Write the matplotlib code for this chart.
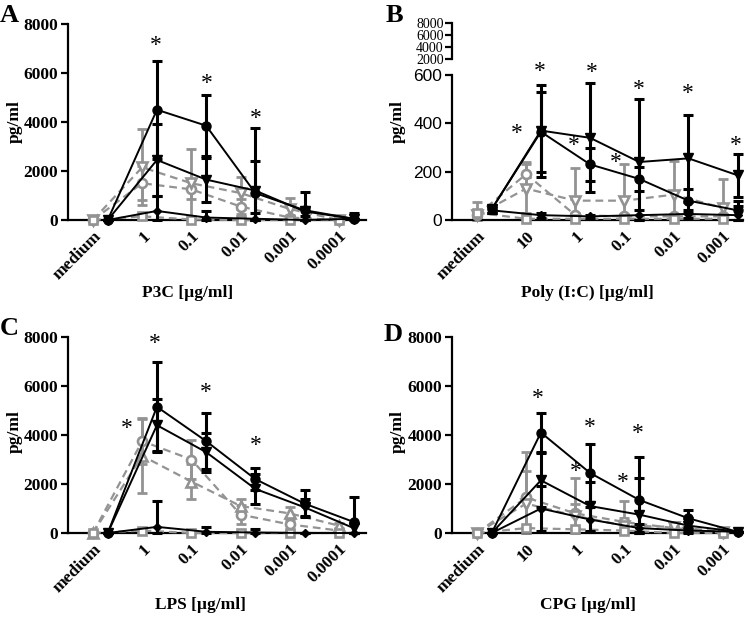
import numpy as np
import matplotlib
matplotlib.use('Agg')
import matplotlib.pyplot as plt

SERIF = 'Liberation Serif'
SANS = 'Liberation Sans'
GRAY = '#939393'

# ---------------- data ----------------
cats_A = ['medium', '1', '0.1', '0.01', '0.001', '0.0001']
cats_B = ['medium', '10', '1', '0.1', '0.01', '0.001']
cats_C = ['medium', '1', '0.1', '0.01', '0.001', '0.0001']
cats_D = ['medium', '10', '1', '0.1', '0.01', '0.001']

# Panel A  (P3C)
A_k1 = [0, 4500, 3850, 1100, 400, 50];   A_k1_err = [0, 2000, 1250, 2650, 750, 250]
A_k2 = [0, 2450, 1650, 1200, 350, 50];   A_k2_err = [0, 1450, 900, 1200, 200, 0]
A_k3 = [0, 370, 100, 50, 0, 50];         A_k3_err = [0, 600, 250, 230, 0, 0]
A_g1 = [0, 1500, 1250, 550, 100, 0];     A_g1_err = [0, 700, 400, 300, 100, 0]
A_g2 = [0, 2150, 1500, 1100, 450, 0];    A_g2_err = [0, 1550, 1400, 650, 450, 0]
A_g3 = [0, 150, 20, 0, 0, 0];            A_g3_err = [0, 0, 0, 0, 0, 0]
A_stars = [(1.27, 7140), (2.32, 5590), (3.31, 4160)]

# Panel B  (Poly I:C)
B_k1 = [45, 365, 230, 170, 80, 40];      B_k1_err = [15, 165, 70, 50, 50, 40]
B_k2 = [45, 370, 340, 240, 255, 185];    B_k2_err = [15, 190, 225, 260, 180, 90]
B_k3 = [40, 20, 15, 20, 25, 20];         B_k3_err = [10, 10, 5, 20, 15, 40]
B_g1 = [20, 190, 20, 15, 15, 15];        B_g1_err = [20, 50, 10, 10, 10, 10]
B_g2 = [20, 130, 80, 80, 105, 50];       B_g2_err = [10, 100, 135, 150, 140, 120]
B_g3 = [30, 5, 5, 5, 5, 5];              B_g3_err = [45, 0, 0, 0, 0, 0]
B_stars = [(1.28, 616), (2.33, 612), (3.29, 542), (4.28, 525), (5.27, 310),
           (0.81, 356), (1.97, 310), (2.82, 240)]

# Panel C  (LPS)
C_k1 = [0, 5150, 3750, 2200, 1200, 450]; C_k1_err = [0, 1850, 1150, 450, 550, 1000]
C_k2 = [0, 4400, 3300, 1800, 1050, 200]; C_k2_err = [0, 1050, 800, 600, 350, 200]
C_k3 = [0, 250, 50, 20, 0, 0];           C_k3_err = [0, 1050, 200, 150, 0, 0]
C_g1 = [0, 3750, 3000, 750, 350, 100];   C_g1_err = [0, 950, 800, 400, 250, 50]
C_g2 = [0, 3150, 2100, 1100, 800, 300];  C_g2_err = [0, 1500, 700, 300, 250, 100]
C_g3 = [0, 100, 0, 0, 0, 0];             C_g3_err = [0, 0, 0, 0, 0, 0]
C_stars = [(0.69, 4280), (1.26, 7750), (2.30, 5750), (3.31, 3590)]

# Panel D  (CPG)
D_k1 = [0, 4100, 2450, 1350, 600, 50];   D_k1_err = [0, 800, 1200, 1750, 350, 0]
D_k2 = [0, 2150, 1100, 750, 300, 50];    D_k2_err = [0, 1100, 1000, 1500, 300, 0]
D_k3 = [0, 1000, 550, 200, 100, 50];     D_k3_err = [0, 900, 500, 150, 50, 0]
D_g1 = [0, 1450, 800, 450, 200, 0];      D_g1_err = [0, 1850, 1450, 850, 200, 0]
D_g2 = [0, 1200, 700, 300, 250, 50];     D_g2_err = [0, 1350, 500, 300, 200, 0]
D_g3 = [0, 200, 150, 100, 0, 0];         D_g3_err = [0, 0, 0, 0, 0, 0]
D_stars = [(1.24, 5510), (2.29, 4320), (3.27, 4080), (2.01, 2490), (2.96, 2080)]

# ---------------- drawing ----------------
fig = plt.figure(figsize=(7.5, 6.17), dpi=100)
W, H = 750.0, 617.0


def rect(x0, x1, ytop, ybot):
    return [x0 / W, 1 - ybot / H, (x1 - x0) / W, (ybot - ytop) / H]


def noclip(cont):
    for grp in cont.lines:
        if grp is None:
            continue
        items = grp if isinstance(grp, (tuple, list)) else [grp]
        for a in items:
            a.set_clip_on(False)


def panel(ax, cats, black, gray, gtri, xmax, ymax, yticks, stars,
          tick_font=SERIF, tick_weight='bold'):
    x = np.arange(len(cats))
    gstyles = [('o', 6.5), (gtri, 7), ('s', 6)]
    kstyles = [('o', 6.5), ('v', 7), ('D', 4.5)]
    for (v, e), (mk, ms) in zip(gray, gstyles):
        v = np.array(v, float); e = np.array(e, float)
        c = ax.errorbar(x, v, yerr=[np.minimum(e, v), e], fmt='none', ecolor=GRAY,
                        elinewidth=2.0, capsize=3.6, capthick=2.0, zorder=2)
        noclip(c)
        ax.plot(x, v, ls=(0, (3.5, 2.2)), color=GRAY, lw=1.6, marker=mk, ms=ms,
                mfc='white', mec=GRAY, mew=1.9, clip_on=False, zorder=3)
    for (v, e), (mk, ms) in zip(black, kstyles):
        v = np.array(v, float); e = np.array(e, float)
        xb = x + 0.3
        c = ax.errorbar(xb, v, yerr=[np.minimum(e, v), e], fmt='none', ecolor='black',
                        elinewidth=2.2, capsize=3.6, capthick=2.2, zorder=4)
        noclip(c)
        ax.plot(xb, v, ls='-', color='black', lw=1.4, marker=mk, ms=ms,
                mfc='black', mec='black', clip_on=False, zorder=5)
    for sx, sy in stars:
        ax.text(sx, sy, '*', fontsize=17, family=SERIF, ha='center',
                va='center', zorder=6, clip_on=False)
    ax.set_xlim(-0.508, xmax)
    ax.set_ylim(0, ymax)
    ax.set_yticks(yticks)
    ax.set_yticklabels([str(t) for t in yticks], fontsize=12.5, family=tick_font,
                       fontweight=tick_weight)
    ax.set_xticks(x)
    ax.set_xticklabels(cats, rotation=45, ha='right', va='top',
                       rotation_mode='anchor', fontsize=12.5, family=SERIF,
                       fontweight='bold')
    ax.tick_params(axis='x', length=0, pad=6)
    ax.tick_params(axis='y', length=5, width=1.6, direction='out', pad=2)
    for s in ('top', 'right'):
        ax.spines[s].set_visible(False)
    for s in ('left', 'bottom'):
        ax.spines[s].set_linewidth(1.6)
    ax.patch.set_alpha(0)


axA = fig.add_axes(rect(68, 366, 24, 220))
panel(axA, cats_A,
      [(A_k1, A_k1_err), (A_k2, A_k2_err), (A_k3, A_k3_err)],
      [(A_g1, A_g1_err), (A_g2, A_g2_err), (A_g3, A_g3_err)],
      'v', 5.55, 8000, [0, 2000, 4000, 6000, 8000], A_stars)

axB = fig.add_axes(rect(452, 743, 75, 220))
panel(axB, cats_B,
      [(B_k1, B_k1_err), (B_k2, B_k2_err), (B_k3, B_k3_err)],
      [(B_g1, B_g1_err), (B_g2, B_g2_err), (B_g3, B_g3_err)],
      'v', 5.41, 600, [0, 200, 400, 600], B_stars,
      tick_font=SANS, tick_weight='normal')

axBu = fig.add_axes(rect(452, 743, 23, 59))
axBu.set_ylim(2000, 8000)
axBu.set_xlim(0, 1)
axBu.set_yticks([2000, 4000, 6000, 8000])
axBu.set_yticklabels(['2000', '4000', '6000', '8000'], fontsize=10,
                     family=SERIF)
axBu.set_xticks([])
for s in ('top', 'right', 'bottom'):
    axBu.spines[s].set_visible(False)
axBu.spines['left'].set_linewidth(1.6)
axBu.tick_params(axis='y', length=5, width=1.6, pad=1)
axBu.patch.set_alpha(0)

axC = fig.add_axes(rect(68, 366, 337, 533))
panel(axC, cats_C,
      [(C_k1, C_k1_err), (C_k2, C_k2_err), (C_k3, C_k3_err)],
      [(C_g1, C_g1_err), (C_g2, C_g2_err), (C_g3, C_g3_err)],
      '^', 5.55, 8000, [0, 2000, 4000, 6000, 8000], C_stars)

axD = fig.add_axes(rect(452, 742, 337, 533))
panel(axD, cats_D,
      [(D_k1, D_k1_err), (D_k2, D_k2_err), (D_k3, D_k3_err)],
      [(D_g1, D_g1_err), (D_g2, D_g2_err), (D_g3, D_g3_err)],
      'v', 5.39, 8000, [0, 2000, 4000, 6000, 8000], D_stars)


def ftext(px, py, s, **kw):
    fig.text(px / W, 1 - py / H, s, family=SERIF, fontweight='bold', **kw)


# panel letters
ftext(0, 22, 'A', fontsize=19, ha='left', va='baseline')
ftext(386, 22, 'B', fontsize=19, ha='left', va='baseline')
ftext(0, 335, 'C', fontsize=19, ha='left', va='baseline')
ftext(384, 341, 'D', fontsize=19, ha='left', va='baseline')

# y labels
for px, py in [(15, 122), (398, 122), (15, 432), (398, 432)]:
    ftext(px, py, 'pg/ml', fontsize=12.5, rotation=90, ha='center', va='center')

# x labels
ftext(188, 293, 'P3C [µg/ml]', fontsize=12.5, ha='center', va='center')
ftext(587, 293, 'Poly (I:C) [µg/ml]', fontsize=12.5, ha='center', va='center')
ftext(200, 605, 'LPS [µg/ml]', fontsize=12.5, ha='center', va='center')
ftext(588, 605, 'CPG [µg/ml]', fontsize=12.5, ha='center', va='center')

fig.savefig('out.png', dpi=100)
